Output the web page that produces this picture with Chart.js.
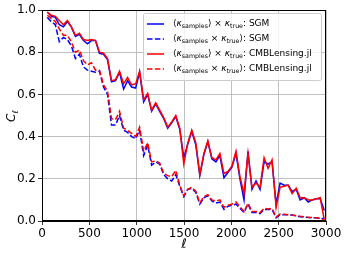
<!DOCTYPE html>
<html>
<head>
<meta charset="utf-8">
<script src="https://cdn.jsdelivr.net/npm/chart.js@4"></script>
<style>
  html, body { margin: 0; padding: 0; background: #fff; }
  #wrap { width: 346px; height: 257px; }
</style>
</head>
<body>
<div id="wrap"><canvas id="clChart" width="346" height="257"></canvas></div>
<script>
// multipole bins
const ell = [56, 98, 141, 183, 226, 268, 310, 353, 395, 438, 480, 522, 565, 607, 650, 692, 734, 777, 819, 862,
  904, 946, 989, 1031, 1074, 1116, 1158, 1201, 1243, 1286, 1328, 1370, 1413, 1455, 1498, 1540, 1582, 1625, 1667, 1710,
  1752, 1794, 1837, 1879, 1922, 1964, 2006, 2049, 2091, 2134, 2176, 2218, 2261, 2303, 2346, 2388, 2430, 2473, 2515, 2558,
  2600, 2642, 2685, 2727, 2770, 2812, 2854, 2897, 2939, 2982];

const sgmMean = [0.99, 0.97, 0.965, 0.93, 0.92, 0.945, 0.92, 0.875, 0.885, 0.855, 0.84, 0.855, 0.855, 0.795, 0.79, 0.765, 0.66, 0.665, 0.705, 0.625,
  0.665, 0.635, 0.63, 0.705, 0.565, 0.60, 0.52, 0.555, 0.52, 0.485, 0.44, 0.465, 0.495, 0.435, 0.30, 0.365, 0.425, 0.36, 0.215, 0.315,
  0.375, 0.295, 0.28, 0.31, 0.205, 0.23, 0.255, 0.32, 0.20, 0.10, 0.33, 0.15, 0.19, 0.15, 0.28, 0.27, 0.28, 0.08, 0.18, 0.17,
  0.17, 0.14, 0.15, 0.10, 0.11, 0.09, 0.10, 0.105, 0.105, 0.05];
const sgmCross = [0.965, 0.945, 0.93, 0.85, 0.87, 0.86, 0.83, 0.77, 0.79, 0.73, 0.715, 0.71, 0.705, 0.71, 0.635, 0.60, 0.455, 0.455, 0.50, 0.43,
  0.42, 0.40, 0.39, 0.43, 0.31, 0.36, 0.265, 0.28, 0.27, 0.22, 0.20, 0.19, 0.22, 0.165, 0.115, 0.15, 0.155, 0.135, 0.08, 0.11,
  0.12, 0.095, 0.085, 0.09, 0.055, 0.07, 0.075, 0.08, 0.06, 0.04, 0.08, 0.04, 0.04, 0.035, 0.055, 0.055, 0.055, 0.015, 0.03, 0.03,
  0.03, 0.028, 0.025, 0.02, 0.018, 0.016, 0.015, 0.015, 0.012, 0.012];
const cmbMean = [0.99, 0.975, 0.97, 0.95, 0.93, 0.95, 0.92, 0.88, 0.89, 0.86, 0.855, 0.86, 0.855, 0.80, 0.795, 0.77, 0.665, 0.67, 0.71, 0.65,
  0.68, 0.645, 0.65, 0.71, 0.575, 0.605, 0.525, 0.56, 0.525, 0.49, 0.445, 0.47, 0.50, 0.44, 0.27, 0.37, 0.43, 0.37, 0.22, 0.32,
  0.38, 0.30, 0.29, 0.32, 0.225, 0.235, 0.26, 0.33, 0.21, 0.13, 0.32, 0.16, 0.18, 0.16, 0.30, 0.25, 0.29, 0.065, 0.16, 0.165,
  0.17, 0.13, 0.155, 0.11, 0.11, 0.10, 0.10, 0.105, 0.11, 0.005];
const cmbCross = [0.975, 0.96, 0.945, 0.91, 0.88, 0.88, 0.85, 0.80, 0.81, 0.76, 0.74, 0.75, 0.715, 0.715, 0.645, 0.615, 0.485, 0.48, 0.52, 0.44,
  0.43, 0.415, 0.40, 0.445, 0.33, 0.37, 0.28, 0.285, 0.275, 0.225, 0.215, 0.21, 0.24, 0.17, 0.12, 0.15, 0.16, 0.14, 0.087, 0.115,
  0.125, 0.10, 0.095, 0.10, 0.065, 0.075, 0.08, 0.09, 0.068, 0.045, 0.085, 0.045, 0.045, 0.04, 0.06, 0.057, 0.06, 0.02, 0.033, 0.032,
  0.03, 0.028, 0.025, 0.022, 0.02, 0.018, 0.016, 0.015, 0.013, 0.0];

const xTicks = [0, 500, 1000, 1500, 2000, 2500, 3000];
const yTicks = [0.0, 0.2, 0.4, 0.6, 0.8, 1.0];
const yTickLabels = ['0.0', '0.2', '0.4', '0.6', '0.8', '1.0'];

const BLUE = '#0000ff';
const RED = '#ff0000';
const DASH = [5.5, 2.4];
const FONT = '"DejaVu Sans", sans-serif';

// legend rows: [color, dashed, segments]; segment = [text, kind] kind: n normal, i italic, s subscript
const legendRows = [
  [BLUE, false, [['⟨', 'n'], ['κ', 'i'], ['samples', 's'], ['⟩ × ', 'n'], ['κ', 'i'], ['true', 's'], [': SGM', 'n']]],
  [BLUE, true, [['⟨', 'n'], ['κ', 'i'], ['samples', 's'], [' × ', 'n'], ['κ', 'i'], ['true', 's'], ['⟩: SGM', 'n']]],
  [RED, false, [['⟨', 'n'], ['κ', 'i'], ['samples', 's'], ['⟩ × ', 'n'], ['κ', 'i'], ['true', 's'], [': CMBLensing.jl', 'n']]],
  [RED, true, [['⟨', 'n'], ['κ', 'i'], ['samples', 's'], [' × ', 'n'], ['κ', 'i'], ['true', 's'], ['⟩: CMBLensing.jl', 'n']]]
];

function pts(ys) {
  return ys.map((y, i) => ({ x: ell[i], y: y }));
}

function drawSegments(ctx, segs, x, y, size) {
  ctx.textBaseline = 'middle';
  ctx.textAlign = 'left';
  for (const [t, kind] of segs) {
    let f, dy = 0;
    if (kind === 's') { f = (size * 0.7).toFixed(1) + 'px ' + FONT; dy = size * 0.3; }
    else if (kind === 'i') { f = 'italic ' + size + 'px ' + FONT; }
    else { f = size + 'px ' + FONT; }
    ctx.font = f;
    ctx.fillText(t, x, y + dy);
    x += ctx.measureText(t).width;
  }
  return x;
}

const decor = {
  id: 'decor',
  afterDraw(chart) {
    const ctx = chart.ctx;
    const a = chart.chartArea;
    const ys = chart.scales.y;
    ctx.save();
    // frame
    ctx.strokeStyle = '#000';
    ctx.lineWidth = 1;
    ctx.strokeRect(Math.round(a.left) + 0.5, Math.round(a.top) + 0.5,
      Math.round(a.right - a.left) - 1, Math.round(a.bottom - a.top) - 1);

    // y tick labels
    ctx.fillStyle = '#000';
    ctx.font = '12px ' + FONT;
    ctx.textAlign = 'right';
    ctx.textBaseline = 'middle';
    yTicks.forEach((v, i) => {
      ctx.fillText(yTickLabels[i], a.left - 6, ys.getPixelForValue(v));
    });

    // legend
    const lx = 143, ly = 13, lw = 178, lh = 67;
    ctx.fillStyle = 'rgba(255,255,255,0.8)';
    ctx.strokeStyle = '#cccccc';
    ctx.beginPath();
    ctx.roundRect(lx + 0.5, ly + 0.5, lw, lh, 2);
    ctx.fill();
    ctx.stroke();
    const rowY = [24, 39, 54, 69];
    legendRows.forEach((row, i) => {
      const y = rowY[i];
      ctx.strokeStyle = row[0];
      ctx.lineWidth = 1.5;
      ctx.setLineDash(row[1] ? DASH : []);
      ctx.beginPath();
      ctx.moveTo(147, y);
      ctx.lineTo(164, y);
      ctx.stroke();
      ctx.setLineDash([]);
      ctx.fillStyle = '#000';
      drawSegments(ctx, row[2], 173, y, 9);
    });

    // axis titles
    ctx.fillStyle = '#000';
    ctx.save();
    ctx.translate(12, 116);
    ctx.rotate(-Math.PI / 2);
    ctx.textBaseline = 'middle';
    ctx.font = 'italic 12px ' + FONT;
    const cw = ctx.measureText('C').width;
    ctx.font = '8.4px ' + FONT;
    const lwid = ctx.measureText('ℓ').width;
    drawSegments(ctx, [['C', 'i'], ['ℓ', 's']], -(cw + lwid) / 2, 0, 12);
    ctx.restore();

    ctx.font = 'italic 13px ' + FONT;
    ctx.textAlign = 'center';
    ctx.textBaseline = 'middle';
    ctx.fillText('ℓ', 184, 245);
    ctx.restore();
  }
};

new Chart(document.getElementById('clChart'), {
  type: 'line',
  data: {
    datasets: [
      { label: 'sgm mean', data: pts(sgmMean), borderColor: BLUE, order: 4 },
      { label: 'sgm cross', data: pts(sgmCross), borderColor: BLUE, borderDash: DASH, order: 3 },
      { label: 'cmb mean', data: pts(cmbMean), borderColor: RED, order: 2 },
      { label: 'cmb cross', data: pts(cmbCross), borderColor: RED, borderDash: DASH, order: 1 }
    ]
  },
  options: {
    responsive: false,
    animation: false,
    events: [],
    layout: { padding: { left: 0, top: 10, right: 20, bottom: 0 } },
    elements: {
      point: { radius: 0 },
      line: { borderWidth: 1.5, tension: 0, fill: false }
    },
    plugins: {
      legend: { display: false },
      tooltip: { enabled: false }
    },
    scales: {
      x: {
        type: 'linear',
        min: 0,
        max: 3000,
        afterBuildTicks: (s) => { s.ticks = xTicks.map(v => ({ value: v })); },
        afterTickToLabelConversion: (s) => { s.ticks.forEach(t => { t.label = String(t.value); }); },
        afterFit: (s) => { s.height = 36; },
        grid: { color: '#b0b0b0', lineWidth: 0.8, tickColor: '#000', tickLength: 4 },
        border: { color: '#000', width: 1 },
        ticks: { color: '#000', font: { family: FONT, size: 12 }, padding: 2, maxRotation: 0 }
      },
      y: {
        type: 'linear',
        min: 0,
        max: 1,
        afterBuildTicks: (s) => { s.ticks = yTicks.map(v => ({ value: v })); },
        afterFit: (s) => { s.width = 42; },
        grid: { color: '#b0b0b0', lineWidth: 0.8, tickColor: '#000', tickLength: 4 },
        border: { color: '#000', width: 1 },
        ticks: { display: false }
      }
    }
  },
  plugins: [decor]
});
</script>
</body>
</html>
